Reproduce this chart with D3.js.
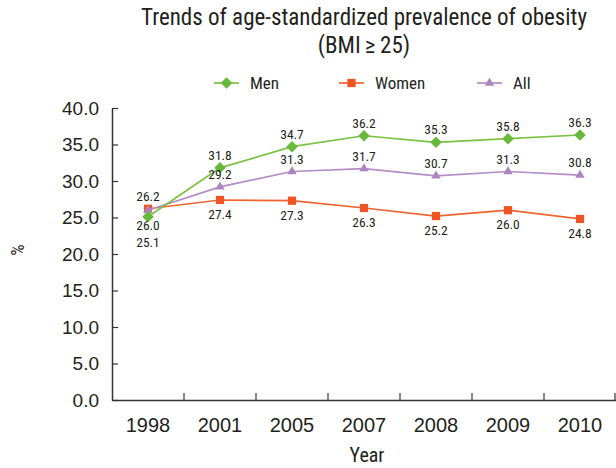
<!DOCTYPE html>
<html>
<head>
<meta charset="utf-8">
<script src="https://cdn.jsdelivr.net/npm/d3@7"></script>
<style>
  html, body { margin: 0; padding: 0; background: #fff; }
  svg { display: block; font-family: 'Liberation Sans Narrow', 'Arial Narrow', 'Roboto Condensed', sans-serif; }
</style>
</head>
<body>
<svg id="chart" width="616" height="468"></svg>
<script>
// Survey years (x categories)
const years = ["1998", "2001", "2005", "2007", "2008", "2009", "2010"];
// Age-standardized prevalence of obesity (%), BMI >= 25
const men   = [25.1, 31.8, 34.7, 36.2, 35.3, 35.8, 36.3];
const women = [26.2, 27.4, 27.3, 26.3, 25.2, 26.0, 24.8];
const all   = [26.0, 29.2, 31.3, 31.7, 30.7, 31.3, 30.8];
// Y axis tick values
const yTicks = [0, 5, 10, 15, 20, 25, 30, 35, 40];

const series = [
  { name: "Men",   values: men,   line: "#7cc242", fill: "#66b93a", symbol: d3.symbolDiamond2, size: 84,
    labelDy: -8 },
  { name: "Women", values: women, line: "#f0632f", fill: "#ef5522", symbol: d3.symbolSquare,   size: 68,
    labelDy: 19 },
  { name: "All",   values: all,   line: "#b48dc6", fill: "#ad84c2", symbol: d3.symbolTriangle, size: 38,
    labelDy: -8 }
];
// label placement at the crowded first year
const firstYearDy = { Men: 30, Women: -8, All: 20 };

const svg = d3.select("#chart");
const margin = { left: 112, right: 0, top: 108, bottom: 68 };
const W = 616, H = 468;

const x = d3.scaleBand().domain(years).range([margin.left, W - margin.right]).padding(0);
const y = d3.scaleLinear().domain([0, 40]).range([H - margin.bottom, margin.top]);

const axisColor = "#333";
const textColor = "#231f20";

// Title
const title = svg.append("text")
  .attr("x", (margin.left + W) / 2)
  .attr("text-anchor", "middle")
  .attr("fill", textColor)
  .style("font-size", "23px");
title.append("tspan").attr("x", (margin.left + W) / 2).attr("y", 25)
  .text("Trends of age-standardized prevalence of obesity");
title.append("tspan").attr("x", (margin.left + W) / 2).attr("y", 53)
  .text("(BMI\u2009\u2265\u200925)");

// Y axis
const yAxis = d3.axisLeft(y)
  .tickValues(yTicks)
  .tickFormat(d3.format(".1f"))
  .tickSizeInner(-6)
  .tickSizeOuter(0)
  .tickPadding(13);
const gy = svg.append("g")
  .attr("transform", `translate(${margin.left},0)`)
  .call(yAxis);
gy.select(".domain").attr("stroke", axisColor).attr("stroke-width", 1.5);
gy.selectAll(".tick line").attr("stroke", axisColor).attr("stroke-width", 1.2);
gy.selectAll(".tick text")
  .attr("fill", textColor)
  .style("font-size", "19px")
  .style("font-family", "inherit");

// X axis
const xAxis = d3.axisBottom(x).tickSize(0).tickPadding(0);
const gx = svg.append("g")
  .attr("transform", `translate(0,${y(0)})`)
  .call(xAxis);
gx.select(".domain").attr("stroke", axisColor).attr("stroke-width", 1.5);
gx.selectAll(".tick text")
  .attr("y", 32).attr("dy", 0)
  .attr("fill", textColor)
  .style("font-size", "20px")
  .style("font-family", "inherit");
// category boundary ticks pointing up
const lastYear = years[years.length - 1];
gx.selectAll(".bound")
  .data(years.slice(1).concat(["end"]))
  .join("line")
  .attr("class", "bound")
  .attr("x1", d => d === "end" ? x(lastYear) + x.bandwidth() - 1 : x(d))
  .attr("x2", d => d === "end" ? x(lastYear) + x.bandwidth() - 1 : x(d))
  .attr("y1", 0).attr("y2", -7)
  .attr("stroke", axisColor).attr("stroke-width", 1.2);

// Axis titles
svg.append("text")
  .attr("x", (margin.left + W) / 2 + 3)
  .attr("y", 462)
  .attr("text-anchor", "middle")
  .attr("fill", textColor)
  .style("font-size", "20px")
  .text("Year");
svg.append("text")
  .attr("transform", `translate(24,250) rotate(-90)`)
  .attr("text-anchor", "middle")
  .attr("fill", textColor)
  .style("font-size", "18px")
  .text("%");

// Lines and markers
const cx = d => x(d) + x.bandwidth() / 2;
const line = d3.line().x((v, i) => cx(years[i])).y(v => y(v));

// Men drawn last so it sits on top
const drawOrder = ["Women", "All", "Men"];
drawOrder.forEach(name => {
  const s = series.find(d => d.name === name);
  const g = svg.append("g");
  g.append("path")
    .datum(s.values)
    .attr("d", line)
    .attr("fill", "none")
    .attr("stroke", s.line)
    .attr("stroke-width", 1.7);
  g.selectAll("path.m")
    .data(s.values)
    .join("path")
    .attr("class", "m")
    .attr("d", d3.symbol(s.symbol, s.size))
    .attr("transform", (v, i) => `translate(${cx(years[i])},${y(v)})`)
    .attr("fill", s.fill);
});

// Value labels
series.forEach(s => {
  svg.append("g").selectAll("text")
    .data(s.values)
    .join("text")
    .attr("x", (v, i) => cx(years[i]))
    .attr("y", (v, i) => y(v) + (i === 0 ? firstYearDy[s.name] : s.labelDy))
    .attr("text-anchor", "middle")
    .attr("fill", textColor)
    .style("font-size", "13.5px")
    .text(v => v.toFixed(1));
});

// Legend
const legendX = [214, 339, 477];
const legend = svg.append("g");
series.forEach((s, i) => {
  const g = legend.append("g").attr("transform", `translate(${legendX[i]},83)`);
  g.append("line").attr("x1", 0).attr("x2", 25).attr("y1", 0).attr("y2", 0)
    .attr("stroke", s.line).attr("stroke-width", 1.7);
  g.append("path")
    .attr("d", d3.symbol(s.symbol, s.size))
    .attr("transform", "translate(12.5,0)")
    .attr("fill", s.fill);
  g.append("text")
    .attr("x", 36).attr("y", 5.5)
    .attr("fill", textColor)
    .style("font-size", "17px")
    .text(s.name);
});
</script>
</body>
</html>
